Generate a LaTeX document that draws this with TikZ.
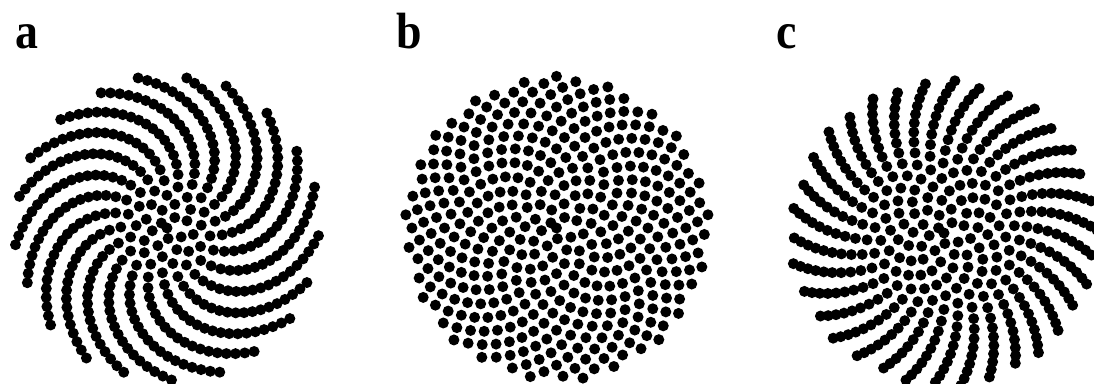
\documentclass[tikz,border=0pt]{standalone}
\usepackage{fontspec}
\setmainfont{Liberation Serif}

% dot radius
\newcommand{\dotr}{5.5}

\begin{document}
\begin{tikzpicture}[
    x=0.02cm,
    y=-0.02cm,
    seed/.style={
        fill=black
    },
    panellabel/.style={
        anchor=base west,
        inner sep=0pt,
        font=\fontsize{29}{29}\selectfont\bfseries
    }
]

% =================================================
% Frame of the picture
% =================================================

\useasboundingbox (0,0) rectangle (1094,383);
\clip (0,0) rectangle (1094,383);

% =================================================
% Three spirals: centre, divergence angle, turn, spacing, last dot
% =================================================

\foreach \cx/\cy/\ang/\rot/\spc/\last in {
    167/228/137.3/1.4/7.5/420,
    556.5/228/137.5/0/7.62/400,
    944/233/137.6/-0.5/7.5/420}{
    \foreach \n in {0,...,\last}{
        \edef\px{\fpeval{\cx + \spc*sqrt(\n)*cosd(\n*\ang+\rot)}}
        \edef\py{\fpeval{\cy - \spc*sqrt(\n)*sind(\n*\ang+\rot)}}
        \fill[seed] (\px,\py) circle (\dotr);
    }
}

% =================================================
% Panel labels
% =================================================

\node[panellabel] (labela) at (15,48)  {\scalebox{0.9}[1]{a}};
\node[panellabel] (labelb) at (396,48) {\scalebox{0.9}[1]{b}};
\node[panellabel] (labelc) at (776,48) {\scalebox{0.9}[1]{c}};

\end{tikzpicture}
\end{document}
